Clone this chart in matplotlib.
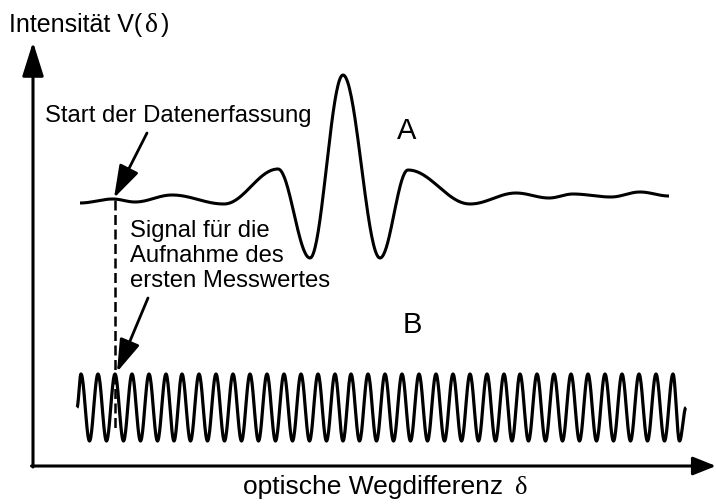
import numpy as np
import matplotlib
matplotlib.use("Agg")
import matplotlib.pyplot as plt

# ---- data (in figure pixel units) ----
# Interferogram A: turning points (optical path difference, intensity level)
a_x = [80, 113, 135, 172, 224, 278, 310, 343, 380, 408, 470, 516, 549, 573, 611, 640, 669]
a_y = [203, 199, 202, 195, 204, 169, 258, 75, 258, 170, 204, 193, 198, 194, 197, 192, 196]

# Laser reference signal B: peak positions, levels
b_peaks = [81, 98, 115, 132, 149, 166, 182, 199, 216, 233, 250, 267, 284, 301, 318,
           335, 351, 368, 385, 402, 419, 436, 453, 470, 487, 504, 520, 537, 554, 571,
           588, 605, 622, 639, 656, 673]
b_start, b_end = 77, 686
b_top, b_mid, b_bottom = 374, 407.5, 441

# trigger: first sample marker position
trigger_x = 115

W, H = 716, 504
fig = plt.figure(figsize=(W / 100, H / 100), dpi=100)
ax = fig.add_axes([0, 0, 1, 1])
ax.set_xlim(0, W)
ax.set_ylim(H, 0)
ax.axis("off")

SANS = ["Liberation Sans", "DejaVu Sans"]
SERIF = ["Liberation Serif", "DejaVu Serif"]


def smooth(xs, ys, n=40):
    px, py = [], []
    for i in range(len(xs) - 1):
        t = np.linspace(0, 1, n, endpoint=False)
        px.append(xs[i] + (xs[i + 1] - xs[i]) * t)
        py.append(ys[i] + (ys[i + 1] - ys[i]) * (1 - np.cos(np.pi * t)) / 2)
    px.append([xs[-1]])
    py.append([ys[-1]])
    return np.concatenate(px), np.concatenate(py)


# curve A
xa, ya = smooth(a_x, a_y)
ax.plot(xa, ya, color="black", lw=2.2, solid_capstyle="butt")

# curve B: knots = start(mid), peaks & troughs, end(mid)
bx = [b_start]
by = [b_mid]
for i, p in enumerate(b_peaks):
    bx.append(p)
    by.append(b_top)
    if i < len(b_peaks) - 1:
        bx.append((p + b_peaks[i + 1]) / 2)
        by.append(b_bottom)
bx += [(b_peaks[-1] + b_end) / 2, b_end]
by += [b_bottom, b_mid]
xb, yb = smooth(bx, by, n=20)
ax.plot(xb, yb, color="black", lw=2.3, solid_capstyle="butt")

# dashed trigger line
ax.plot([trigger_x, trigger_x], [200, 429], color="black", lw=1.8,
        linestyle=(0, (4, 1.8)))

# axes arrows
ax.annotate("", xy=(33, 42), xytext=(33, 467),
            arrowprops=dict(arrowstyle="-|>,head_length=1.05,head_width=0.33",
                            mutation_scale=20, color="black", lw=2.2,
                            shrinkA=0, shrinkB=0))
ax.annotate("", xy=(716, 466), xytext=(31.5, 466),
            arrowprops=dict(arrowstyle="-|>,head_length=0.7,head_width=0.28",
                            mutation_scale=20, color="black", lw=2.2,
                            shrinkA=0, shrinkB=0))

# pointer arrows
for (x0, y0, x1, y1) in [(147, 133, 114, 198), (148, 298, 117, 372)]:
    ax.annotate("", xy=(x1, y1), xytext=(x0, y0),
                arrowprops=dict(arrowstyle="-|>,head_length=1.0,head_width=0.32",
                                mutation_scale=20, color="black", lw=2.0,
                                shrinkA=0, shrinkB=0))

# texts
fs = 17.2
ax.text(45, 122, "Start der Datenerfassung", fontsize=fs, family=SANS, va="baseline")
ax.text(130, 237, "Signal für die", fontsize=fs, family=SANS, va="baseline")
ax.text(130, 262, "Aufnahme des", fontsize=fs, family=SANS, va="baseline")
ax.text(130, 287, "ersten Messwertes", fontsize=fs, family=SANS, va="baseline")
ax.text(407, 139, "A", fontsize=21, family=SANS, va="baseline", ha="center")
ax.text(412, 333, "B", fontsize=21, family=SANS, va="baseline", ha="center")

fig.canvas.draw()
renderer = fig.canvas.get_renderer()
inv = ax.transData.inverted()


def chain(x, y, parts):
    for txt, fam, size, gap in parts:
        t = ax.text(x + gap, y, txt, fontsize=size, family=fam, va="baseline")
        bb = t.get_window_extent(renderer)
        x = inv.transform((bb.x1, bb.y0))[0]


chain(9, 32, [("Intensität V(", SANS, 18, 0), ("δ", SERIF, 20, 3), (")", SANS, 18, 3)])
chain(243, 494, [("optische Wegdifferenz", SANS, 19, 0), ("δ", SERIF, 19, 12)])

fig.savefig("out.png", dpi=100)
